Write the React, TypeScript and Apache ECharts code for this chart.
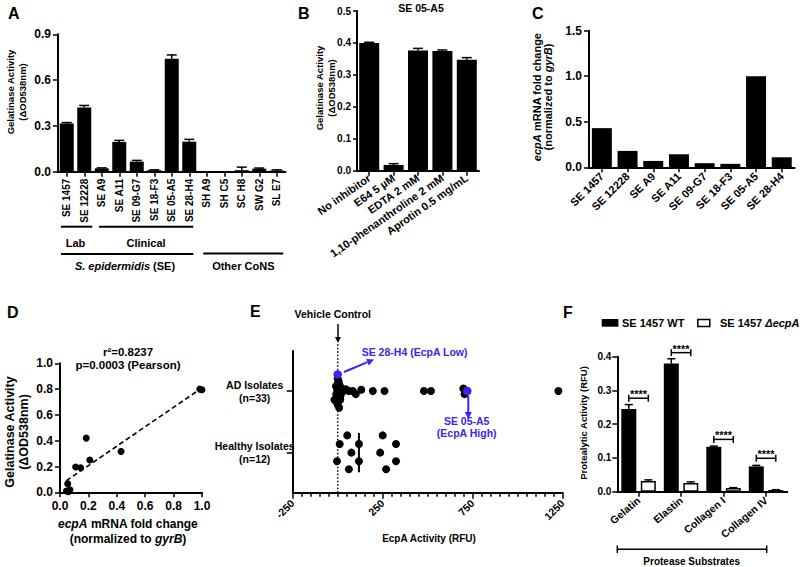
import React, { useEffect, useRef } from "react";
import * as echarts from "echarts";

const FONT = "'Liberation Sans', Arial, Helvetica, sans-serif";
const BLUE = "#3a24f0";

// ---- Panel A: gelatinase activity by strain ----
const aCategories = ["SE 1457", "SE 12228", "SE A9", "SE A11", "SE 09-G7", "SE 18-F3", "SE 05-A5", "SE 28-H4", "SH A9", "SH C5", "SC H8", "SW G2", "SL E7"];
const aValues = [0.316, 0.42, 0.022, 0.195, 0.066, 0.01, 0.74, 0.197, 0, 0, 0.01, 0.02, 0.008];
const aErrors = [0.006, 0.014, 0.003, 0.01, 0.008, 0.002, 0.025, 0.015, 0, 0, 0.02, 0.004, 0.004];

// ---- Panel B: inhibitors ----
const bCategories = ["No inhibitor", "E64 5 µM", "EDTA 2 mM", "1,10-phenanthroline 2 mM", "Aprotin 0.5 mg/mL"];
const bValues = [0.4, 0.018, 0.376, 0.375, 0.347];
const bErrors = [0.002, 0.004, 0.007, 0.003, 0.007];

// ---- Panel C: ecpA mRNA ----
const cCategories = ["SE 1457", "SE 12228", "SE A9", "SE A11", "SE 09-G7", "SE 18-F3", "SE 05-A5", "SE 28-H4"];
const cValues = [0.43, 0.18, 0.07, 0.143, 0.045, 0.038, 1.0, 0.11];

// ---- Panel D: correlation ----
const dX = [0.43, 0.185, 0.21, 0.11, 0.145, 0.054, 0.045, 0.07, 0.06, 0.985, 1.0];
const dY = [0.317, 0.42, 0.25, 0.196, 0.19, 0.067, 0.01, 0.02, 0.005, 0.8, 0.795];
const dFitX = [0.045, 1.0];
const dFitY = [0.09, 0.81];

// ---- Panel E: EcpA activity of isolates ----
const eAdValues = [0, 2, 5, -3, 8, -18, 14, 0, 8, 3, -8, 10, -5, 5, 20, -10, 15, 25, 30, 45, 62, 84, 100, 131, 195, 260, 479, 518, 698, 705, 1226];
const eAdJitter = [0.2, 0.13, 0.07, 0.02, -0.03, -0.14, -0.14, -0.22, -0.27, -0.09, -0.05, 0.1, -0.18, 0.16, 0.05, 0.08, -0.08, -0.02, 0, 0.03, 0, 0, -0.05, 0.02, 0, 0, 0, 0, 0.04, -0.05, 0];
const eHighlightValues = [0, 720];
const eHighlightJitter = [0.27, 0];
const eHealthyValues = [53, 11, 76, -4, 62, 118, 118, 250, 236, 269, 324, 324];
const eHealthyJitter = [0.28, 0.14, 0, -0.14, -0.27, 0.14, -0.14, 0.28, 0, -0.27, 0.14, -0.14];
const eHealthyMedian = 118;

// ---- Panel F: substrates ----
const fCategories = ["Gelatin", "Elastin", "Collagen I", "Collagen IV"];
const fWt = [0.245, 0.38, 0.133, 0.075];
const fWtErr = [0.013, 0.014, 0.002, 0.003];
const fKo = [0.032, 0.026, 0.011, 0.005];
const fKoErr = [0.003, 0.003, 0.001, 0.001];
const fSigY = [0.277, 0.412, 0.155, 0.099];
const fSigLabel = "****";

const LS = { color: "#000", width: 2 };

function xAxisCfg(gridIndex: number, fontSize: number, extra: any = {}) {
  return {
    gridIndex,
    axisLine: { show: true, onZero: false, lineStyle: LS },
    axisTick: { show: true, length: 5, lineStyle: { color: "#000", width: 1.5 }, ...(extra.axisTick || {}) },
    axisLabel: { color: "#000", fontWeight: "bold", fontFamily: FONT, fontSize, margin: 7, ...(extra.axisLabel || {}) },
    splitLine: { show: false },
    ...Object.fromEntries(Object.entries(extra).filter(([k]) => k !== "axisTick" && k !== "axisLabel")),
  };
}

function errSeries(xi: number, vals: number[], errs: number[], cap: number, offset = 0) {
  return {
    type: "custom",
    xAxisIndex: xi,
    yAxisIndex: xi,
    silent: true,
    z: 5,
    data: vals.map((v, i) => [i, v, errs[i]]),
    renderItem: (_p: any, api: any) => {
      const i = api.value(0), v = api.value(1), e = api.value(2);
      if (!e) return { type: "group", children: [] };
      const b = api.coord([i, v]);
      const t = api.coord([i, v + e]);
      const x = b[0] + offset;
      const st = { stroke: "#000", lineWidth: 1.5 };
      return {
        type: "group",
        children: [
          { type: "line", shape: { x1: x, y1: b[1], x2: x, y2: t[1] }, style: st },
          { type: "line", shape: { x1: x - cap, y1: t[1], x2: x + cap, y2: t[1] }, style: st },
        ],
      };
    },
  };
}

function txt(x: number, y: number, text: string, size: number, opts: any = {}) {
  const align = opts.align || "center";
  const valign = opts.valign || "middle";
  return {
    type: "text",
    x,
    y,
    rotation: opts.rotation || 0,
    silent: true,
    style: {
      text,
      fill: opts.color || "#000",
      fontSize: size,
      fontWeight: opts.weight || "bold",
      fontStyle: opts.italic ? "italic" : "normal",
      fontFamily: FONT,
      align,
      verticalAlign: valign,
      textAlign: align,
      textVerticalAlign: valign,
      lineHeight: opts.lineHeight,
      rich: opts.rich,
    },
  };
}

function richStyles(size: number, color = "#000") {
  return {
    it: { fontStyle: "italic", fontWeight: "bold", fontSize: size, fontFamily: FONT, fill: color, color },
    n: { fontStyle: "normal", fontWeight: "bold", fontSize: size, fontFamily: FONT, fill: color, color },
  };
}

function ln(x1: number, y1: number, x2: number, y2: number, w = 2, color = "#000", dash?: any) {
  return { type: "line", silent: true, shape: { x1, y1, x2, y2 }, style: { stroke: color, lineWidth: w, lineDash: dash } };
}

function arrow(x1: number, y1: number, x2: number, y2: number, color: string, w = 1.5, head = 6) {
  const dx = x2 - x1, dy = y2 - y1;
  const L = Math.sqrt(dx * dx + dy * dy);
  const ux = dx / L, uy = dy / L;
  const bx = x2 - ux * head, by = y2 - uy * head;
  const px = -uy * head * 0.5, py = ux * head * 0.5;
  return [
    ln(x1, y1, bx, by, w, color),
    { type: "polygon", silent: true, shape: { points: [[x2, y2], [bx + px, by + py], [bx - px, by - py]] }, style: { fill: color } },
  ];
}

export default function App() {
  const ref = useRef<HTMLDivElement>(null);

  useEffect(() => {
    if (!ref.current) return;
    const chart = echarts.init(ref.current, undefined, { renderer: "svg" });

    const fmt1 = (v: number) => v.toFixed(1);

    const graphics: any[] = [
      // panel letters
      txt(8, 13, "A", 16, { align: "left" }),
      txt(298, 13, "B", 16, { align: "left" }),
      txt(532, 13, "C", 16, { align: "left" }),
      txt(7, 312, "D", 16, { align: "left" }),
      txt(250, 311, "E", 16, { align: "left" }),
      txt(563, 312, "F", 16, { align: "left" }),

      // A
      txt(16, 92, "Gelatinase Activity\n(ΔOD538nm)", 9.5, { rotation: Math.PI / 2, lineHeight: 12 }),
      ln(61, 226.7, 92.3, 226.7),
      ln(99, 226.7, 193.3, 226.7),
      txt(75.5, 243.3, "Lab", 11),
      txt(146, 243.3, "Clinical", 11),
      ln(61, 254, 193.3, 254),
      txt(125, 265.5, "{it|S. epidermidis} {n|(SE)}", 11, { rich: richStyles(11) }),
      ln(203.3, 253.5, 283.3, 253.5),
      txt(243.3, 266, "Other CoNS", 11),

      // B
      txt(421, 8, "SE 05-A5", 10.5),
      txt(325.5, 88, "Gelatinase Activity\n(ΔOD538nm)", 9.5, { rotation: Math.PI / 2, lineHeight: 11.5 }),

      // C
      txt(542.7, 97, "{it|ecpA}{n| mRNA fold change}\n{n|(normalized to }{it|gyrB}{n|)}", 11, {
        rotation: Math.PI / 2, lineHeight: 11.5, rich: richStyles(11),
      }),

      // D
      txt(17, 432, "Gelatinase Activity\n(ΔOD538nm)", 12.5, { rotation: Math.PI / 2, lineHeight: 14 }),
      txt(128, 531, "{it|ecpA}{n| mRNA fold change}\n{n|(normalized to }{it|gyrB}{n|)}", 12, {
        lineHeight: 15, rich: richStyles(12),
      }),
      txt(128, 358.4, "r²=0.8237\np=0.0003 (Pearson)", 11.5, { lineHeight: 13.3 }),

      // E
      txt(332.8, 314, "Vehicle Control", 10.5),
      ...arrow(338, 324, 338, 343, "#000", 1.5, 6),
      ...arrow(344, 372, 374, 359.5, BLUE, 2, 7),
      txt(361.7, 351.5, "SE 28-H4 (EcpA Low)", 10.5, { align: "left", color: BLUE }),
      ...arrow(468.3, 396, 468.3, 419, BLUE, 2, 7),
      txt(466.7, 427.3, "SE 05-A5\n(EcpA High)", 10.5, { color: BLUE, lineHeight: 12 }),
      txt(429, 538.3, "EcpA Activity (RFU)", 10),

      // F
      txt(583, 423, "Protealytic Activity (RFU)", 9.5, { rotation: Math.PI / 2 }),
      { type: "rect", silent: true, shape: { x: 601.7, y: 319, width: 16.7, height: 7.7 }, style: { fill: "#000" } },
      txt(622, 322.7, "SE 1457 WT", 11, { align: "left" }),
      { type: "rect", silent: true, shape: { x: 697.8, y: 319.5, width: 12, height: 7 }, style: { fill: "#fff", stroke: "#000", lineWidth: 1.5 } },
      txt(720, 322.7, "{n|SE 1457 }{it|ΔecpA}", 11, { align: "left", rich: richStyles(11) }),
      ln(617.3, 549.3, 766.7, 549.3, 1.5),
      ln(617.3, 545.5, 617.3, 553, 1.5),
      ln(766.7, 545.5, 766.7, 553, 1.5),
      txt(691.7, 561.7, "Protease Substrates", 10),
    ];

    const option: any = {
      animation: false,
      backgroundColor: "#fff",
      grid: [
        { left: 58, top: 34.3, width: 227.5, height: 137.4, containLabel: false, outerBoundsMode: "none" },
        { left: 357, top: 11, width: 122, height: 159.7, containLabel: false, outerBoundsMode: "none" },
        { left: 589, top: 30.7, width: 205.6, height: 136.6, containLabel: false, outerBoundsMode: "none" },
        { left: 60, top: 363.3, width: 142, height: 129, containLabel: false, outerBoundsMode: "none" },
        { left: 292.7, top: 351, width: 270, height: 141.7, containLabel: false, outerBoundsMode: "none" },
        { left: 617.3, top: 356.7, width: 170, height: 135, containLabel: false, outerBoundsMode: "none" },
      ],
      xAxis: [
        xAxisCfg(0, 10, { type: "category", data: aCategories, axisTick: { alignWithLabel: true }, axisLabel: { rotate: 90, interval: 0, margin: 7 } }),
        xAxisCfg(1, 11, { type: "category", data: bCategories, axisTick: { alignWithLabel: true }, axisLabel: { rotate: 35, interval: 0, margin: 6 } }),
        xAxisCfg(2, 11, { type: "category", data: cCategories, axisTick: { alignWithLabel: true }, axisLabel: { rotate: 45, interval: 0, margin: 7 } }),
        xAxisCfg(3, 12, { type: "value", min: 0, max: 1, interval: 0.2, axisLabel: { formatter: fmt1, margin: 8 } }),
        xAxisCfg(4, 10.5, {
          type: "value", min: -250, max: 1250, interval: 500,
          axisTick: { length: 6 },
          minorTick: { show: true, splitNumber: 10, length: 4, lineStyle: { color: "#000", width: 1.5 } },
          minorSplitLine: { show: false },
          axisLabel: { rotate: 45, margin: 9, formatter: (v: number) => String(v) },
        }),
        xAxisCfg(5, 10.5, { type: "category", data: fCategories, axisTick: { alignWithLabel: true }, axisLabel: { rotate: 40, interval: 0, margin: 7 } }),
      ],
      yAxis: [
        xAxisCfg(0, 12, { type: "value", min: 0, max: 0.9, interval: 0.3, axisLabel: { formatter: fmt1, margin: 7 } }),
        xAxisCfg(1, 10, { type: "value", min: 0, max: 0.5, interval: 0.1, axisLabel: { formatter: fmt1, margin: 6 }, axisTick: { length: 4 } }),
        xAxisCfg(2, 12, { type: "value", min: 0, max: 1.5, interval: 0.5, axisLabel: { formatter: fmt1, margin: 7 } }),
        xAxisCfg(3, 12, { type: "value", min: 0, max: 1, interval: 0.2, axisLabel: { formatter: fmt1, margin: 7 } }),
        xAxisCfg(4, 10.5, {
          type: "value", min: 0.35, max: 2.65,
          axisTick: { customValues: [1, 2], length: 6 },
          axisLabel: {
            customValues: [1, 2],
            align: "center",
            margin: 38,
            lineHeight: 13,
            formatter: (v: number) => (Math.round(v) === 2 ? "AD Isolates\n(n=33)" : "Healthy Isolates\n(n=12)"),
          },
        }),
        xAxisCfg(5, 10, { type: "value", min: 0, max: 0.4, interval: 0.1, axisLabel: { formatter: fmt1, margin: 6 } }),
      ],
      series: [
        // A
        { type: "bar", xAxisIndex: 0, yAxisIndex: 0, data: aValues, barWidth: 14, itemStyle: { color: "#000" }, silent: true },
        errSeries(0, aValues, aErrors, 5),
        // B
        { type: "bar", xAxisIndex: 1, yAxisIndex: 1, data: bValues, barWidth: 20, itemStyle: { color: "#000" }, silent: true },
        errSeries(1, bValues, bErrors, 5),
        // C
        { type: "bar", xAxisIndex: 2, yAxisIndex: 2, data: cValues, barWidth: 20, itemStyle: { color: "#000" }, silent: true },
        // D
        {
          type: "line", xAxisIndex: 3, yAxisIndex: 3, data: dFitX.map((x, i) => [x, dFitY[i]]),
          symbol: "none", lineStyle: { color: "#000", width: 1.6, type: [5, 3] }, silent: true, z: 2,
        },
        {
          type: "scatter", xAxisIndex: 3, yAxisIndex: 3, data: dX.map((x, i) => [x, dY[i]]),
          symbolSize: 7, itemStyle: { color: "#000", opacity: 1 }, silent: true, z: 3,
        },
        // E
        {
          type: "line", xAxisIndex: 4, yAxisIndex: 4, data: [[0, 0.35], [0, 2.76]], clip: false,
          symbol: "none", lineStyle: { color: "#000", width: 1.5, type: [1.5, 2] }, silent: true, z: 1,
        },
        {
          type: "line", xAxisIndex: 4, yAxisIndex: 4, data: [[eHealthyMedian, 0.68], [eHealthyMedian, 1.32]],
          symbol: "none", lineStyle: { color: "#000", width: 2 }, silent: true, z: 2,
        },
        {
          type: "scatter", xAxisIndex: 4, yAxisIndex: 4, data: eAdValues.map((v, i) => [v, 2 + eAdJitter[i]]),
          symbolSize: 8, itemStyle: { color: "#000", opacity: 1 }, silent: true, z: 3,
        },
        {
          type: "scatter", xAxisIndex: 4, yAxisIndex: 4, data: eHealthyValues.map((v, i) => [v, 1 + eHealthyJitter[i]]),
          symbolSize: 8, itemStyle: { color: "#000", opacity: 1 }, silent: true, z: 3,
        },
        {
          type: "scatter", xAxisIndex: 4, yAxisIndex: 4, data: eHighlightValues.map((v, i) => [v, 2 + eHighlightJitter[i]]),
          symbolSize: 8.5, itemStyle: { color: BLUE, opacity: 1 }, silent: true, z: 4,
        },
        // F
        {
          type: "bar", xAxisIndex: 5, yAxisIndex: 5, data: fWt, barWidth: 15, barGap: "30%",
          itemStyle: { color: "#000" }, silent: true,
        },
        {
          type: "bar", xAxisIndex: 5, yAxisIndex: 5, data: fKo, barWidth: 15, barGap: "30%",
          itemStyle: { color: "#fff", borderColor: "#000", borderWidth: 1.5 }, silent: true,
        },
        errSeries(5, fWt, fWtErr, 4, -9.75),
        errSeries(5, fKo, fKoErr, 4, 9.75),
        {
          type: "custom", xAxisIndex: 5, yAxisIndex: 5, silent: true, z: 6,
          data: fSigY.map((y, i) => [i, y]),
          renderItem: (_p: any, api: any) => {
            const c = api.coord([api.value(0), api.value(1)]);
            const x1 = c[0] - 9.75, x2 = c[0] + 9.75, y = c[1];
            const st = { stroke: "#000", lineWidth: 1.5 };
            return {
              type: "group",
              children: [
                { type: "line", shape: { x1, y1: y, x2, y2: y }, style: st },
                { type: "line", shape: { x1, y1: y - 3.5, x2: x1, y2: y + 3.5 }, style: st },
                { type: "line", shape: { x1: x2, y1: y - 3.5, x2, y2: y + 3.5 }, style: st },
                {
                  type: "text",
                  style: {
                    x: c[0], y: y - 4, text: fSigLabel, fill: "#000", fontSize: 11, fontWeight: "bold", fontFamily: FONT,
                    align: "center", verticalAlign: "middle", textAlign: "center", textVerticalAlign: "middle",
                  },
                },
              ],
            };
          },
        },
      ],
      graphic: { elements: graphics },
    };

    chart.setOption(option);
    return () => chart.dispose();
  }, []);

  return <div ref={ref} style={{ position: "absolute", left: 0, top: 0, width: 800, height: 567, background: "#fff" }} />;
}
